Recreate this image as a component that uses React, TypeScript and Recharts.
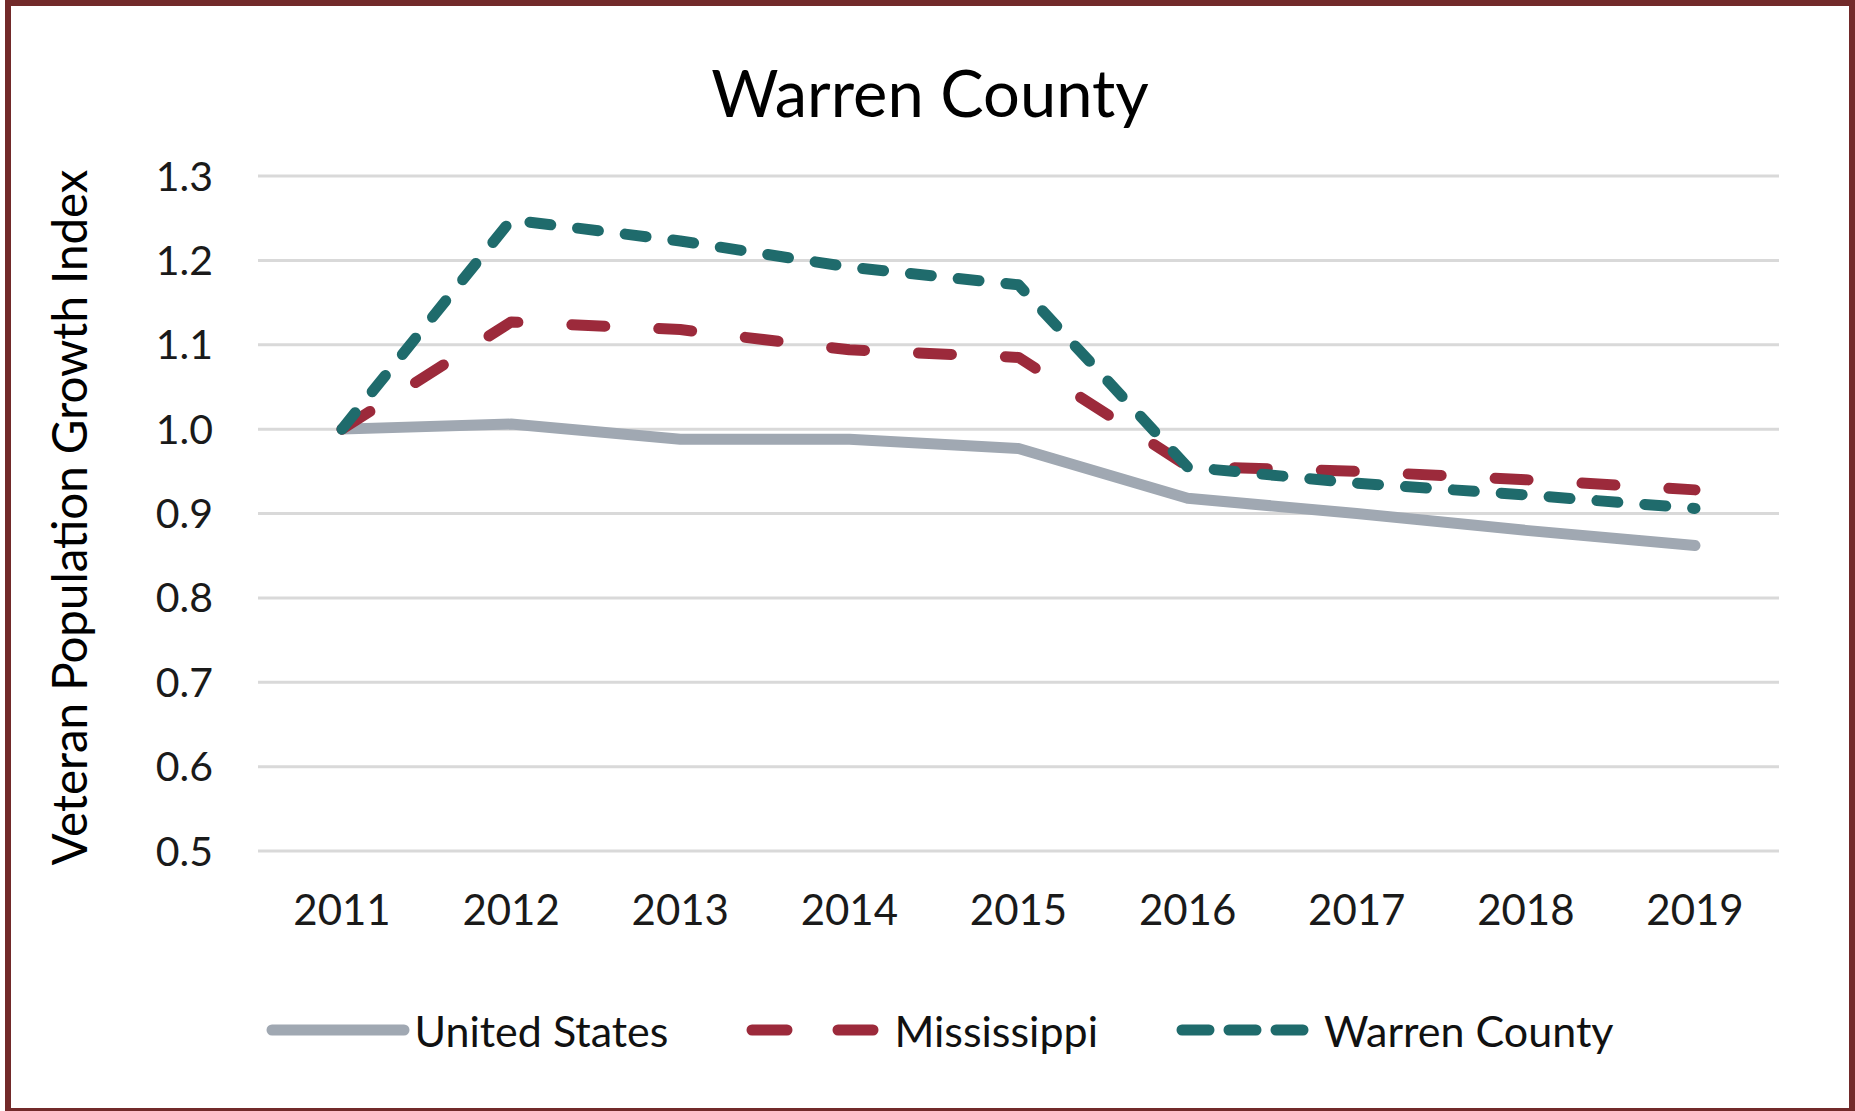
import React from 'react';
import { LineChart, Line, XAxis, YAxis, CartesianGrid } from 'recharts';

const years = ['2011', '2012', '2013', '2014', '2015', '2016', '2017', '2018', '2019'];
const unitedStates = [1.0, 1.006, 0.988, 0.988, 0.977, 0.918, 0.9, 0.88, 0.862];
const mississippi = [1.0, 1.127, 1.118, 1.094, 1.085, 0.956, 0.95, 0.94, 0.928];
const warrenCounty = [1.0, 1.248, 1.223, 1.192, 1.171, 0.955, 0.936, 0.922, 0.906];
const yTicks = [0.5, 0.6, 0.7, 0.8, 0.9, 1.0, 1.1, 1.2, 1.3];

const data = years.map((year, i) => ({
    year,
    us: unitedStates[i],
    ms: mississippi[i],
    wc: warrenCounty[i],
}));

const FONT = 'Lato, "Open Sans", sans-serif';

const series = [
    { key: 'us', name: 'United States', color: '#a0a8b2', dash: undefined, legendDash: undefined },
    { key: 'ms', name: 'Mississippi', color: '#9c2a3b', dash: '33 54', legendDash: '35 51' },
    { key: 'wc', name: 'Warren County', color: '#1f6b6c', dash: '21 27', legendDash: '27 20' },
];

const YLabel = (props: any) => {
    const vb = props.viewBox || { x: 158, y: 176, width: 100, height: 675 };
    const cx = vb.x - 90;
    const cy = vb.y + vb.height / 2 + 4;
    return (
        <text
            x={cx}
            y={cy}
            transform={`rotate(-90 ${cx} ${cy})`}
            textAnchor="middle"
            dominantBaseline="central"
            fontFamily={FONT}
            fontSize={47.5}
            fill="#000"
        >
            Veteran Population Growth Index
        </text>
    );
};

const App = () => {
    return (
        <div style={{ position: 'absolute', left: 0, top: 0, width: 1855, height: 1111, background: '#fff', overflow: 'hidden' }}>
            <LineChart
                width={1855}
                height={1111}
                data={data}
                margin={{ top: 176, right: 76, bottom: 0, left: 158 }}
            >
                <CartesianGrid vertical={false} stroke="#d9d9d9" strokeWidth={3} />
                <XAxis
                    dataKey="year"
                    height={260}
                    padding={{ left: 84, right: 84 }}
                    axisLine={false}
                    tickLine={false}
                    tickSize={0}
                    tickMargin={44}
                    tick={{ fill: '#1a1a1a', fontSize: 42, fontFamily: FONT }}
                />
                <YAxis
                    width={100}
                    domain={[0.5, 1.3]}
                    ticks={yTicks}
                    axisLine={false}
                    tickLine={false}
                    tickSize={0}
                    tickMargin={45}
                    tickFormatter={(v: number) => v.toFixed(1)}
                    tick={{ fill: '#1a1a1a', fontSize: 41, fontFamily: FONT }}
                    label={<YLabel />}
                />
                {series.map((s) => (
                    <Line
                        key={s.key}
                        dataKey={s.key}
                        name={s.name}
                        type="linear"
                        stroke={s.color}
                        strokeWidth={11}
                        strokeDasharray={s.dash}
                        strokeLinecap="round"
                        strokeLinejoin="round"
                        dot={false}
                        activeDot={false}
                        isAnimationActive={false}
                    />
                ))}
            </LineChart>

            <div
                style={{
                    position: 'absolute',
                    left: 0,
                    top: 60,
                    width: 1860,
                    textAlign: 'center',
                    fontFamily: FONT,
                    fontSize: 65,
                    lineHeight: '65px',
                    color: '#000',
                }}
            >
                Warren County
            </div>

            <div
                style={{
                    position: 'absolute',
                    left: 0,
                    top: 1000,
                    width: 1880,
                    height: 60,
                    display: 'flex',
                    justifyContent: 'center',
                    alignItems: 'center',
                    fontFamily: FONT,
                    fontSize: 43,
                    color: '#111',
                }}
            >
                {series.map((s, i) => (
                    <div key={s.key} style={{ display: 'flex', alignItems: 'center', marginLeft: i === 0 ? 0 : 78 }}>
                        <svg width={144} height={20}>
                            <line
                                x1={6}
                                y1={10}
                                x2={138}
                                y2={10}
                                stroke={s.color}
                                strokeWidth={11}
                                strokeLinecap="round"
                                strokeDasharray={s.legendDash}
                            />
                        </svg>
                        <span style={{ marginLeft: 4 }}>{s.name}</span>
                    </div>
                ))}
            </div>

            <div
                style={{
                    position: 'absolute',
                    left: 5,
                    top: 0,
                    width: 1850,
                    height: 1111,
                    boxSizing: 'border-box',
                    borderTop: '6px solid #722a2a',
                    borderLeft: '6px solid #722a2a',
                    borderRight: '6px solid #722a2a',
                    borderBottom: '3px solid #722a2a',
                    pointerEvents: 'none',
                }}
            />
        </div>
    );
};

export default App;
